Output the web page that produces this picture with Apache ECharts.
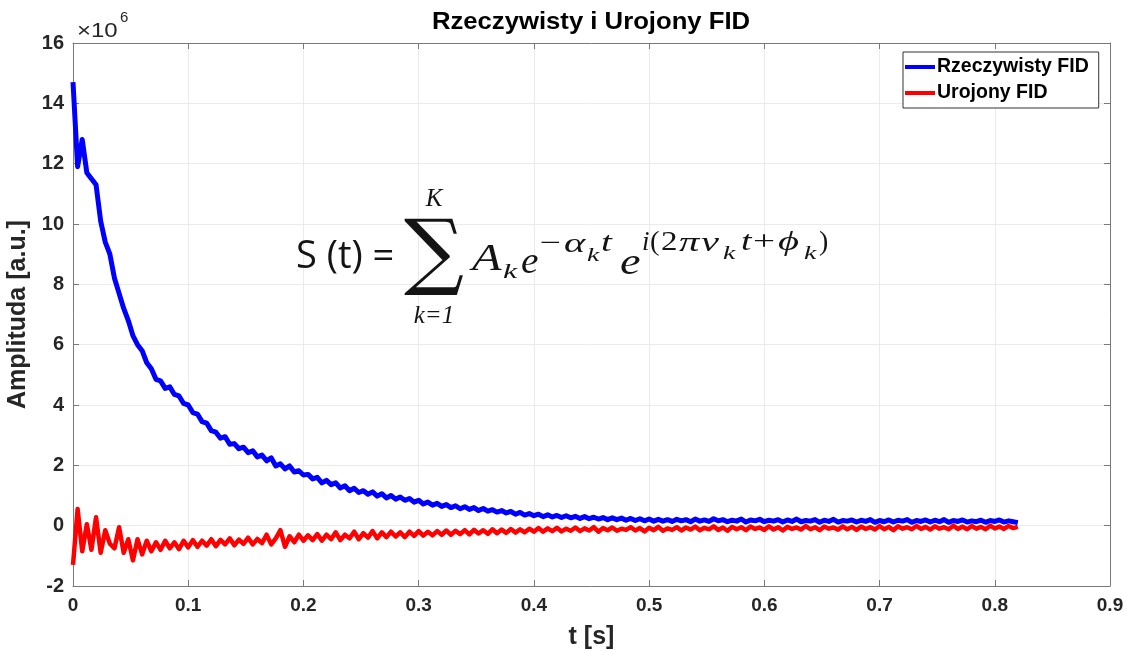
<!DOCTYPE html>
<html>
<head>
<meta charset="utf-8">
<title>Rzeczywisty i Urojony FID</title>
<script src="https://cdn.jsdelivr.net/npm/echarts@6/dist/echarts.min.js"></script>
<style>
  html, body { margin: 0; padding: 0; background: #fff; }
  #chart { width: 1126px; height: 651px; }
</style>
</head>
<body>
<div id="chart"></div>
<script>
// FID samples, amplitudes in units of 1e6 a.u., one sample every 4 ms from t = 0
const sampleStep = 0.004;

const seriesNames = ['Rzeczywisty FID', 'Urojony FID'];

const realFid = [
  14.7, 11.9, 12.8, 11.7, 11.5, 11.3, 10.1, 9.4, 9.0, 8.2,
  7.7, 7.2, 6.8, 6.3, 6.0, 5.8, 5.4, 5.2, 4.85, 4.8,
  4.55, 4.6, 4.35, 4.3, 4.05, 4.0, 3.75, 3.7, 3.45, 3.4,
  3.15, 3.1, 2.9, 2.95, 2.7, 2.72, 2.55, 2.6, 2.42, 2.48,
  2.28, 2.34, 2.15, 2.25, 1.98, 2.05, 1.88, 1.98, 1.78, 1.82,
  1.68, 1.7, 1.55, 1.6, 1.42, 1.5, 1.36, 1.42, 1.25, 1.32,
  1.16, 1.24, 1.1, 1.16, 1.04, 1.12, 0.98, 1.06, 0.92, 1.0,
  0.88, 0.95, 0.84, 0.9, 0.78, 0.84, 0.72, 0.78, 0.68, 0.74,
  0.64, 0.7, 0.6, 0.66, 0.56, 0.63, 0.54, 0.6, 0.5, 0.57,
  0.48, 0.53, 0.45, 0.5, 0.42, 0.47, 0.38, 0.44, 0.35, 0.4,
  0.33, 0.38, 0.3, 0.36, 0.29, 0.34, 0.27, 0.33, 0.26, 0.31,
  0.24, 0.3, 0.23, 0.28, 0.22, 0.27, 0.2, 0.26, 0.2, 0.25,
  0.18, 0.24, 0.17, 0.23, 0.16, 0.22, 0.15, 0.21, 0.15, 0.2,
  0.14, 0.21, 0.16, 0.2, 0.13, 0.22, 0.15, 0.19, 0.14, 0.23,
  0.16, 0.2, 0.13, 0.18, 0.15, 0.22, 0.12, 0.19, 0.16, 0.21,
  0.13, 0.18, 0.15, 0.2, 0.12, 0.19, 0.14, 0.22, 0.13, 0.17,
  0.15, 0.2, 0.11, 0.18, 0.14, 0.21, 0.12, 0.17, 0.15, 0.19,
  0.12, 0.18, 0.14, 0.2, 0.11, 0.17, 0.13, 0.19, 0.12, 0.18,
  0.15, 0.2, 0.11, 0.17, 0.14, 0.19, 0.12, 0.18, 0.13, 0.2,
  0.11, 0.17, 0.14, 0.19, 0.12, 0.16, 0.13, 0.18, 0.11, 0.17,
  0.14, 0.19, 0.12, 0.16, 0.13, 0.1
];

const imagFid = [
  -1.3, 0.55, -0.85, 0.05, -0.8, 0.28, -0.9, -0.15, -0.6, -0.75,
  -0.05, -0.9, -0.45, -1.15, -0.45, -0.95, -0.5, -0.85, -0.55, -0.8,
  -0.5, -0.75, -0.55, -0.78, -0.5, -0.72, -0.48, -0.7, -0.5, -0.66,
  -0.45, -0.68, -0.47, -0.62, -0.42, -0.65, -0.46, -0.6, -0.4, -0.62,
  -0.44, -0.58, -0.3, -0.62, -0.42, -0.15, -0.7, -0.35, -0.55, -0.3,
  -0.5, -0.32, -0.48, -0.28, -0.5, -0.3, -0.45, -0.22, -0.48, -0.3,
  -0.42, -0.2, -0.45, -0.25, -0.4, -0.18, -0.42, -0.22, -0.38, -0.2,
  -0.36, -0.22, -0.38, -0.2, -0.34, -0.18, -0.33, -0.2, -0.32, -0.18,
  -0.3, -0.16, -0.3, -0.17, -0.28, -0.15, -0.29, -0.14, -0.26, -0.15,
  -0.27, -0.12, -0.25, -0.13, -0.24, -0.11, -0.23, -0.12, -0.22, -0.1,
  -0.2, -0.08, -0.2, -0.09, -0.18, -0.07, -0.19, -0.1, -0.17, -0.06,
  -0.18, -0.09, -0.16, -0.05, -0.2, -0.08, -0.15, -0.06, -0.17, -0.1,
  -0.14, -0.05, -0.16, -0.08, -0.19, -0.07, -0.15, -0.04, -0.17, -0.09,
  -0.14, -0.05, -0.16, -0.06, -0.13, -0.03, -0.15, -0.07, -0.12, -0.02,
  -0.14, -0.06, -0.17, -0.04, -0.12, -0.05, -0.15, -0.03, -0.11, -0.06,
  -0.14, -0.02, -0.13, -0.05, -0.16, -0.04, -0.11, -0.06, -0.13, -0.01,
  -0.12, -0.05, -0.15, -0.03, -0.1, -0.06, -0.13, -0.02, -0.12, -0.04,
  -0.14, -0.03, -0.11, -0.05, -0.13, -0.01, -0.12, -0.04, -0.15, -0.02,
  -0.1, -0.05, -0.12, -0.01, -0.11, -0.04, -0.13, -0.02, -0.1, -0.05,
  -0.12, 0.0, -0.11, -0.03, -0.12, -0.01, -0.1, -0.04, -0.12, 0.0,
  -0.09, -0.03, -0.11, -0.01, -0.08, -0.04
];

// axis ranges and labels
const xRange = { min: 0, max: 0.9, step: 0.1 };
const yRange = { min: -2, max: 16, step: 2 };
const titleText = 'Rzeczywisty i Urojony FID';
const xAxisTitle = 't [s]';
const yAxisTitle = 'Amplituda [a.u.]';

const toPairs = values => values.map((v, i) => [+(i * sampleStep).toFixed(4), v]);

const axisColor = '#7a7a7a';
const labelColor = '#262626';
const gridColor = '#ebebeb';
const sansFamily = '"Liberation Sans", Arial, sans-serif';
const sansBold = { fontFamily: 'Liberation Sans', fontWeight: 'bold', color: labelColor };

const frameAxis = (extra) => Object.assign({
  type: 'value',
  min: extra.min, max: extra.max, interval: extra.interval,
  axisLine: { show: true, onZero: false, lineStyle: { color: axisColor, width: 1 } },
  axisTick: { show: true, inside: true, length: 6, lineStyle: { color: axisColor } },
  axisLabel: { show: false },
  splitLine: { show: false }
}, extra.opts);

// ---- signal model formula ----
const mathFamily = '"Liberation Serif", serif';
const sumFamily = '"DejaVu Serif", serif';
const formulaText = '#141414';

// stand-alone parts: [text, x, centre y, size, family, style, align]
const formulaParts = [
  ['S (t) =', 296, 257, 38, '"Open Sans", "Noto Sans", sans-serif', 'normal', 'left'],
  ['\u2211', 434, 257, 84, sumFamily, 'normal', 'center'],
  ['K', 434, 199, 25, mathFamily, 'italic', 'center'],
  ['k=1', 434, 316, 25, mathFamily, 'italic', 'center']
];

// summand glyphs: [text, left x, centre y, size, style]; each glyph is
// widened a little to close up to the next one, like a wide math face
const summandGlyphs = [
  ['A', 472, 260, 37, 'italic'],
  ['k', 503, 272, 22, 'italic'],
  ['e', 521, 263, 37, 'italic'],
  ['\u2212', 540, 244, 26, 'normal'],
  ['\u03b1', 564, 245, 28, 'italic'],
  ['k', 587, 256, 19, 'italic'],
  ['t', 601, 244, 27, 'italic'],
  ['e', 620, 264, 37, 'italic'],
  ['i', 642, 243, 27, 'italic'],
  ['(', 650, 243, 28, 'normal'],
  ['2', 661, 243, 27, 'normal'],
  ['\u03c0', 679, 244, 28, 'italic'],
  ['\u03bd', 701, 244, 28, 'italic'],
  ['k', 723, 254, 19, 'italic'],
  ['t', 741, 243, 27, 'italic'],
  ['+', 753, 243, 27, 'normal'],
  ['\u03d5', 778, 243, 28, 'italic'],
  ['k', 804, 254, 19, 'italic'],
  [')', 819, 243, 28, 'normal']
];

const measureCtx = document.createElement('canvas').getContext('2d');
const glyphFont = g => g[4] + ' ' + g[3] + 'px ' + mathFamily;
const summandEls = summandGlyphs.map((g, i) => {
  measureCtx.font = glyphFont(g);
  const natural = measureCtx.measureText(g[0]).width;
  const next = summandGlyphs[i + 1];
  let sx = 1;
  if (next && natural > 0) {
    sx = Math.max(1, Math.min(1.45, (next[1] - g[1] - 1.5) / natural));
  }
  return {
    type: 'text', x: g[1], y: g[2], scaleX: sx, z: 50,
    style: { text: g[0], align: 'left', verticalAlign: 'middle', font: glyphFont(g), fill: formulaText }
  };
});

const chart = echarts.init(document.getElementById('chart'), null, { renderer: 'canvas' });

const graphics = [
  {
    type: 'text', x: 591, y: 22, scaleX: 1.07,
    style: { text: titleText, align: 'center', verticalAlign: 'middle',
      font: 'bold 24px ' + sansFamily, fill: '#000' }
  },
  {
    type: 'text', x: 77, y: 31, scaleX: 1.2,
    style: { text: '\u00d710', align: 'left', verticalAlign: 'middle',
      font: '20px ' + sansFamily, fill: labelColor }
  },
  {
    type: 'text', x: 120, y: 18,
    style: { text: '6', align: 'left', verticalAlign: 'middle',
      font: '15px ' + sansFamily, fill: labelColor }
  }
].concat(formulaParts.map(p => ({
  type: 'text', x: p[1], y: p[2], z: 50,
  style: {
    text: p[0], align: p[6], verticalAlign: 'middle',
    font: p[5] + ' ' + p[3] + 'px ' + p[4], fill: formulaText
  }
}))).concat(summandEls);

chart.setOption({
  animation: false,
  backgroundColor: '#ffffff',
  grid: { left: 73, right: 16, top: 43, bottom: 65, containLabel: false, outerBoundsMode: 'none' },
  legend: {
    orient: 'vertical',
    left: 903, top: 52,
    padding: [5, 10, 5, 2],
    itemGap: 6,
    itemWidth: 30, itemHeight: 4,
    icon: 'rect',
    borderColor: '#333', borderWidth: 1,
    backgroundColor: '#fff',
    textStyle: { fontFamily: 'Liberation Sans', fontWeight: 'bold', fontSize: 19.5, color: '#000', padding: [0, 0, 0, -3] },
    data: seriesNames
  },
  graphic: graphics,
  xAxis: [
    {
      type: 'value', min: xRange.min, max: xRange.max, interval: xRange.step,
      name: xAxisTitle, nameLocation: 'middle', nameGap: 39,
      nameTextStyle: Object.assign({ fontSize: 25 }, sansBold),
      axisLine: { show: true, onZero: false, lineStyle: { color: axisColor, width: 1 } },
      axisTick: { show: true, inside: true, length: 6, lineStyle: { color: axisColor } },
      axisLabel: Object.assign({ fontSize: 19, margin: 10 }, sansBold),
      splitLine: { show: true, lineStyle: { color: gridColor, width: 1 } }
    },
    frameAxis({ min: xRange.min, max: xRange.max, interval: xRange.step, opts: { position: 'top' } })
  ],
  yAxis: [
    {
      type: 'value', min: yRange.min, max: yRange.max, interval: yRange.step,
      name: yAxisTitle, nameLocation: 'middle', nameGap: 37,
      nameTextStyle: Object.assign({ fontSize: 25 }, sansBold),
      axisLine: { show: true, onZero: false, lineStyle: { color: axisColor, width: 1 } },
      axisTick: { show: true, inside: true, length: 6, lineStyle: { color: axisColor } },
      axisLabel: Object.assign({ fontSize: 20, margin: 9 }, sansBold),
      splitLine: { show: true, lineStyle: { color: gridColor, width: 1 } }
    },
    frameAxis({ min: yRange.min, max: yRange.max, interval: yRange.step, opts: { position: 'right' } })
  ],
  series: [
    {
      name: seriesNames[0], type: 'line', xAxisIndex: 0, yAxisIndex: 0,
      data: toPairs(realFid), showSymbol: false, symbol: 'none',
      lineStyle: { color: '#0000ff', width: 5, join: 'round' },
      itemStyle: { color: '#0000ff' }, z: 3
    },
    {
      name: seriesNames[1], type: 'line', xAxisIndex: 0, yAxisIndex: 0,
      data: toPairs(imagFid), showSymbol: false, symbol: 'none',
      lineStyle: { color: '#ff0000', width: 4.5, join: 'round' },
      itemStyle: { color: '#ff0000' }, z: 4
    }
  ]
});
</script>
</body>
</html>
